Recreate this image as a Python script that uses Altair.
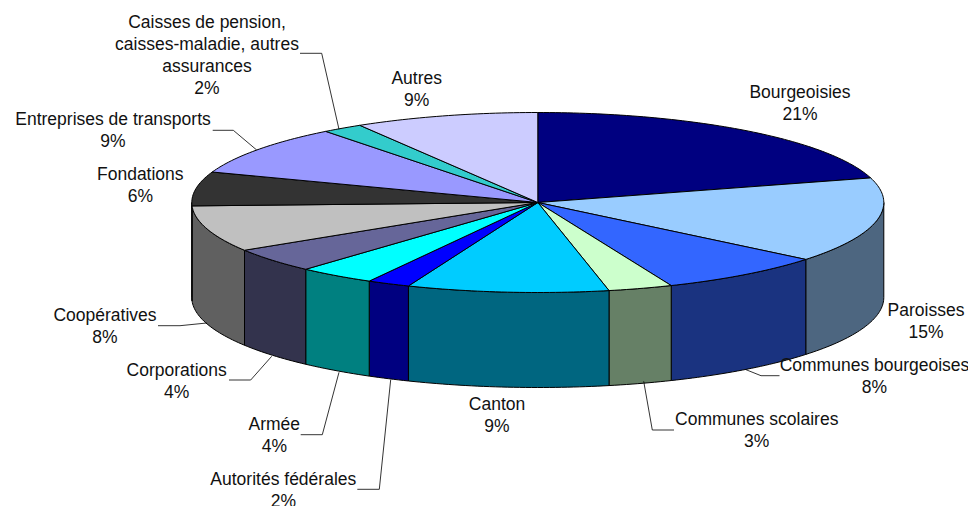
import math
import altair as alt
import pandas as pd

# ---- data ----
categories = ["Bourgeoisies", "Paroisses", "Communes bourgeoises", "Communes scolaires",
              "Canton", "Autorités fédérales", "Armée", "Corporations", "Coopératives",
              "Fondations", "Entreprises de transports",
              "Caisses de pension, caisses-maladie, autres assurances", "Autres"]
shares = [20.6, 15.3, 7.8, 3.0, 9.4, 2.0, 3.6, 4.4, 8.3, 6.1, 9.0, 1.9, 8.6]
top_colors = ["#000080", "#99CCFF", "#3366FF", "#CCFFCC", "#00CCFF", "#0000FF", "#00FFFF",
              "#666699", "#C0C0C0", "#333333", "#9999FF", "#33CCCC", "#CCCCFF"]
side_colors = ["#000040", "#4D6680", "#1A3380", "#668066", "#006680", "#000080", "#008080",
               "#33334D", "#606060", "#1A1A1A", "#4D4D80", "#1A6666", "#666680"]

# ---- label layout: (lines, centre x, first line y) ----
label_lines = [["Bourgeoisies", "21%"], ["Paroisses", "15%"], ["Communes bourgeoises", "8%"],
               ["Communes scolaires", "3%"], ["Canton", "9%"], ["Autorités fédérales", "2%"],
               ["Armée", "4%"], ["Corporations", "4%"], ["Coopératives", "8%"],
               ["Fondations", "6%"], ["Entreprises de transports", "9%"],
               ["Caisses de pension,", "caisses-maladie, autres", "assurances", "2%"],
               ["Autres", "9%"]]
label_x = [800, 926, 874.5, 756.7, 497, 283.3, 274.3, 176.7, 105, 140.3, 113, 207, 416.7]
label_y = [93, 311, 366, 420, 405, 479.7, 425, 370.7, 316, 175, 120, 22.7, 79]
LINE_STEP = 22.2

# ---- leader lines ----
leaders = {
    "Caisses": ([300, 321.7, 339], [53.3, 53.3, 129.3]),
    "Entreprises": ([212.7, 233.3, 256.7], [130.3, 130.3, 150]),
    "Cooperatives": ([158, 180, 206.7], [325.7, 325.7, 323]),
    "Corporations": ([229, 250.7, 271.7], [380, 380, 356.3]),
    "Armee": ([300.7, 322.3, 339], [434.7, 434.7, 372.3]),
    "Autorites": ([357.3, 379.3, 390.7], [489.3, 489.3, 379.7]),
    "Scolaires": ([674, 652.3, 643.7], [430, 430, 381.3]),
    "Bourgeoises": ([779.5, 761, 746], [375.7, 375.7, 369.7]),
}

# ---- pie geometry ----
CX, CY, RX, RY, DEPTH = 537.8, 202.5, 346.0, 90.0, 95.0
W, H = 960, 500


def rim(t_deg, drop=0.0):
    t = math.radians(t_deg)
    return CX + RX * math.sin(t), CY - RY * math.cos(t) + drop


def arc(t0, t1, drop=0.0):
    n = max(2, int(abs(t1 - t0)) + 2)
    return [rim(t0 + (t1 - t0) * i / (n - 1), drop) for i in range(n)]


top_rows, side_rows = [], []
cum = 0.0
for name, share, tc, sc in zip(categories, shares, top_colors, side_colors):
    t0, t1 = cum * 3.6, (cum + share) * 3.6
    cum += share
    pts = [(CX, CY)] + arc(t0, t1)
    top_rows += [{"name": name, "color": tc, "seq": i, "x": p[0], "y": p[1]}
                 for i, p in enumerate(pts)]
    a, b = max(t0, 90.0), min(t1, 270.0)
    if b > a:
        pts = arc(a, b) + arc(b, a, DEPTH)
        side_rows += [{"name": name, "color": sc, "seq": i, "x": p[0], "y": p[1]}
                      for i, p in enumerate(pts)]

text_rows = []
for lines, lx, ly in zip(label_lines, label_x, label_y):
    for i, line in enumerate(lines):
        text_rows.append({"text": line, "x": lx, "y": ly + i * LINE_STEP})

leader_rows = []
for key, (xs, ys) in leaders.items():
    for i, (lx, ly) in enumerate(zip(xs, ys)):
        leader_rows.append({"name": key, "seq": i, "x": lx, "y": ly})

X = alt.X("x:Q", axis=None, scale=alt.Scale(domain=[8, 8 + W], nice=False, zero=False))
Y = alt.Y("y:Q", axis=None, scale=alt.Scale(domain=[8 + H, 8], nice=False, zero=False))


def polygons(rows):
    return alt.Chart(pd.DataFrame(rows)).mark_line(
        filled=True, interpolate="linear-closed", stroke="#000000", strokeWidth=1,
        strokeJoin="round", opacity=1, clip=False,
    ).encode(
        x=X, y=Y,
        color=alt.Color("color:N", scale=None, legend=None),
        detail="name:N",
        order="seq:Q",
    )


sides = polygons(side_rows)
tops = polygons(top_rows)

leader_layer = alt.Chart(pd.DataFrame(leader_rows)).mark_line(
    color="#000000", strokeWidth=0.8
).encode(x=X, y=Y, detail="name:N", order="seq:Q")

text_layer = alt.Chart(pd.DataFrame(text_rows)).mark_text(
    font="Liberation Sans", fontSize=17.5, color="#111111", align="center", baseline="middle"
).encode(x=X, y=Y, text="text:N")

chart = (
    alt.layer(sides, tops, leader_layer, text_layer)
    .properties(width=W, height=H, padding=0, background="#FFFFFF",
                autosize=alt.AutoSizeParams(type="none"))
    .configure_view(strokeWidth=0)
)

chart.save("out.html", embed_options={"renderer": "svg", "actions": False})
